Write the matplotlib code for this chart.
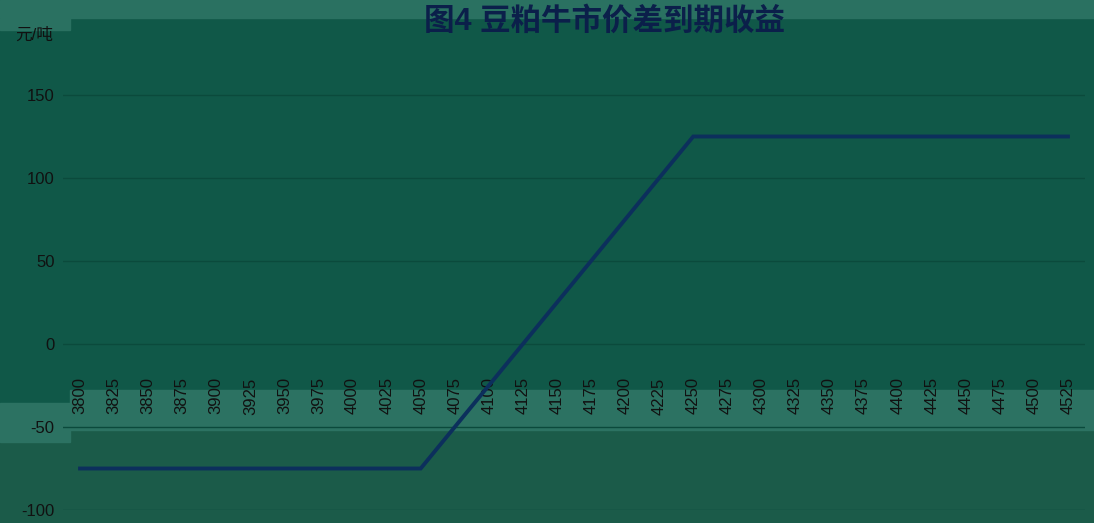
import matplotlib.pyplot as plt
from matplotlib.patches import Rectangle

plt.rcParams['font.family'] = ['Liberation Sans', 'Noto Sans CJK SC', 'DejaVu Sans']

# expiry price (元/吨) and bull spread payoff
prices = [3800, 3825, 3850, 3875, 3900, 3925, 3950, 3975, 4000, 4025,
          4050, 4075, 4100, 4125, 4150, 4175, 4200, 4225, 4250, 4275,
          4300, 4325, 4350, 4375, 4400, 4425, 4450, 4475, 4500, 4525]
payoff = [-75, -75, -75, -75, -75, -75, -75, -75, -75, -75,
          -75, -50, -25, 0, 25, 50, 75, 100, 125, 125,
          125, 125, 125, 125, 125, 125, 125, 125, 125, 125]
y_ticks = [-100, -50, 0, 50, 100, 150]

W, H = 1094, 523
bg = '#105848'
fig = plt.figure(figsize=(W / 100, H / 100), dpi=100, facecolor=bg)

# shaded bands seen in the picture
def band(x0, y0, x1, y1, color):
    fig.patches.append(Rectangle((x0 / W, 1 - y1 / H), (x1 - x0) / W, (y1 - y0) / H,
                                 transform=fig.transFigure, color=color, zorder=-5))

band(0, 0, W, 18, '#2a7161')
band(0, 18, 70, 30, '#2a7161')
band(0, 430, W, H, '#1b5b49')
band(70, 390, W, 430, '#2c7262')
band(0, 403, 70, 442, '#2c7262')

ax = fig.add_axes([63 / W, 13 / H, (1085 - 63) / W, (511 - 13) / H])
ax.set_facecolor('none')

x = list(range(len(prices)))
ax.plot(x, payoff, color='#0c2f5c', linewidth=2.8, solid_joinstyle='miter', zorder=3)

ax.spines['bottom'].set_position(('data', 0))
for s in ax.spines.values():
    s.set_visible(False)

ax.set_xlim(-0.5, len(prices) - 0.5)
ax.set_ylim(-100, 200)
ax.set_yticks(y_ticks)
ax.set_yticklabels([str(v) for v in y_ticks])
ax.grid(axis='y', color='#0b4a3c', linewidth=1)
ax.set_axisbelow(True)

ax.set_xticks(x)
ax.set_xticklabels([str(p) for p in prices], rotation=90, fontsize=12, color='#111111')
ax.tick_params(axis='x', length=0, pad=24)
ax.tick_params(axis='y', length=0, pad=6, labelsize=12, labelcolor='#111111')

fig.text(15 / W, 1 - 35 / H, '元/吨', fontsize=12, color='#111111', va='center', ha='left')
fig.text(605 / W, 1 - 22 / H, '图4 豆粕牛市价差到期收益', fontsize=22, fontweight='bold',
         color='#0b1f4a', ha='center', va='center')

fig.savefig('out.png', dpi=100, facecolor=bg)
